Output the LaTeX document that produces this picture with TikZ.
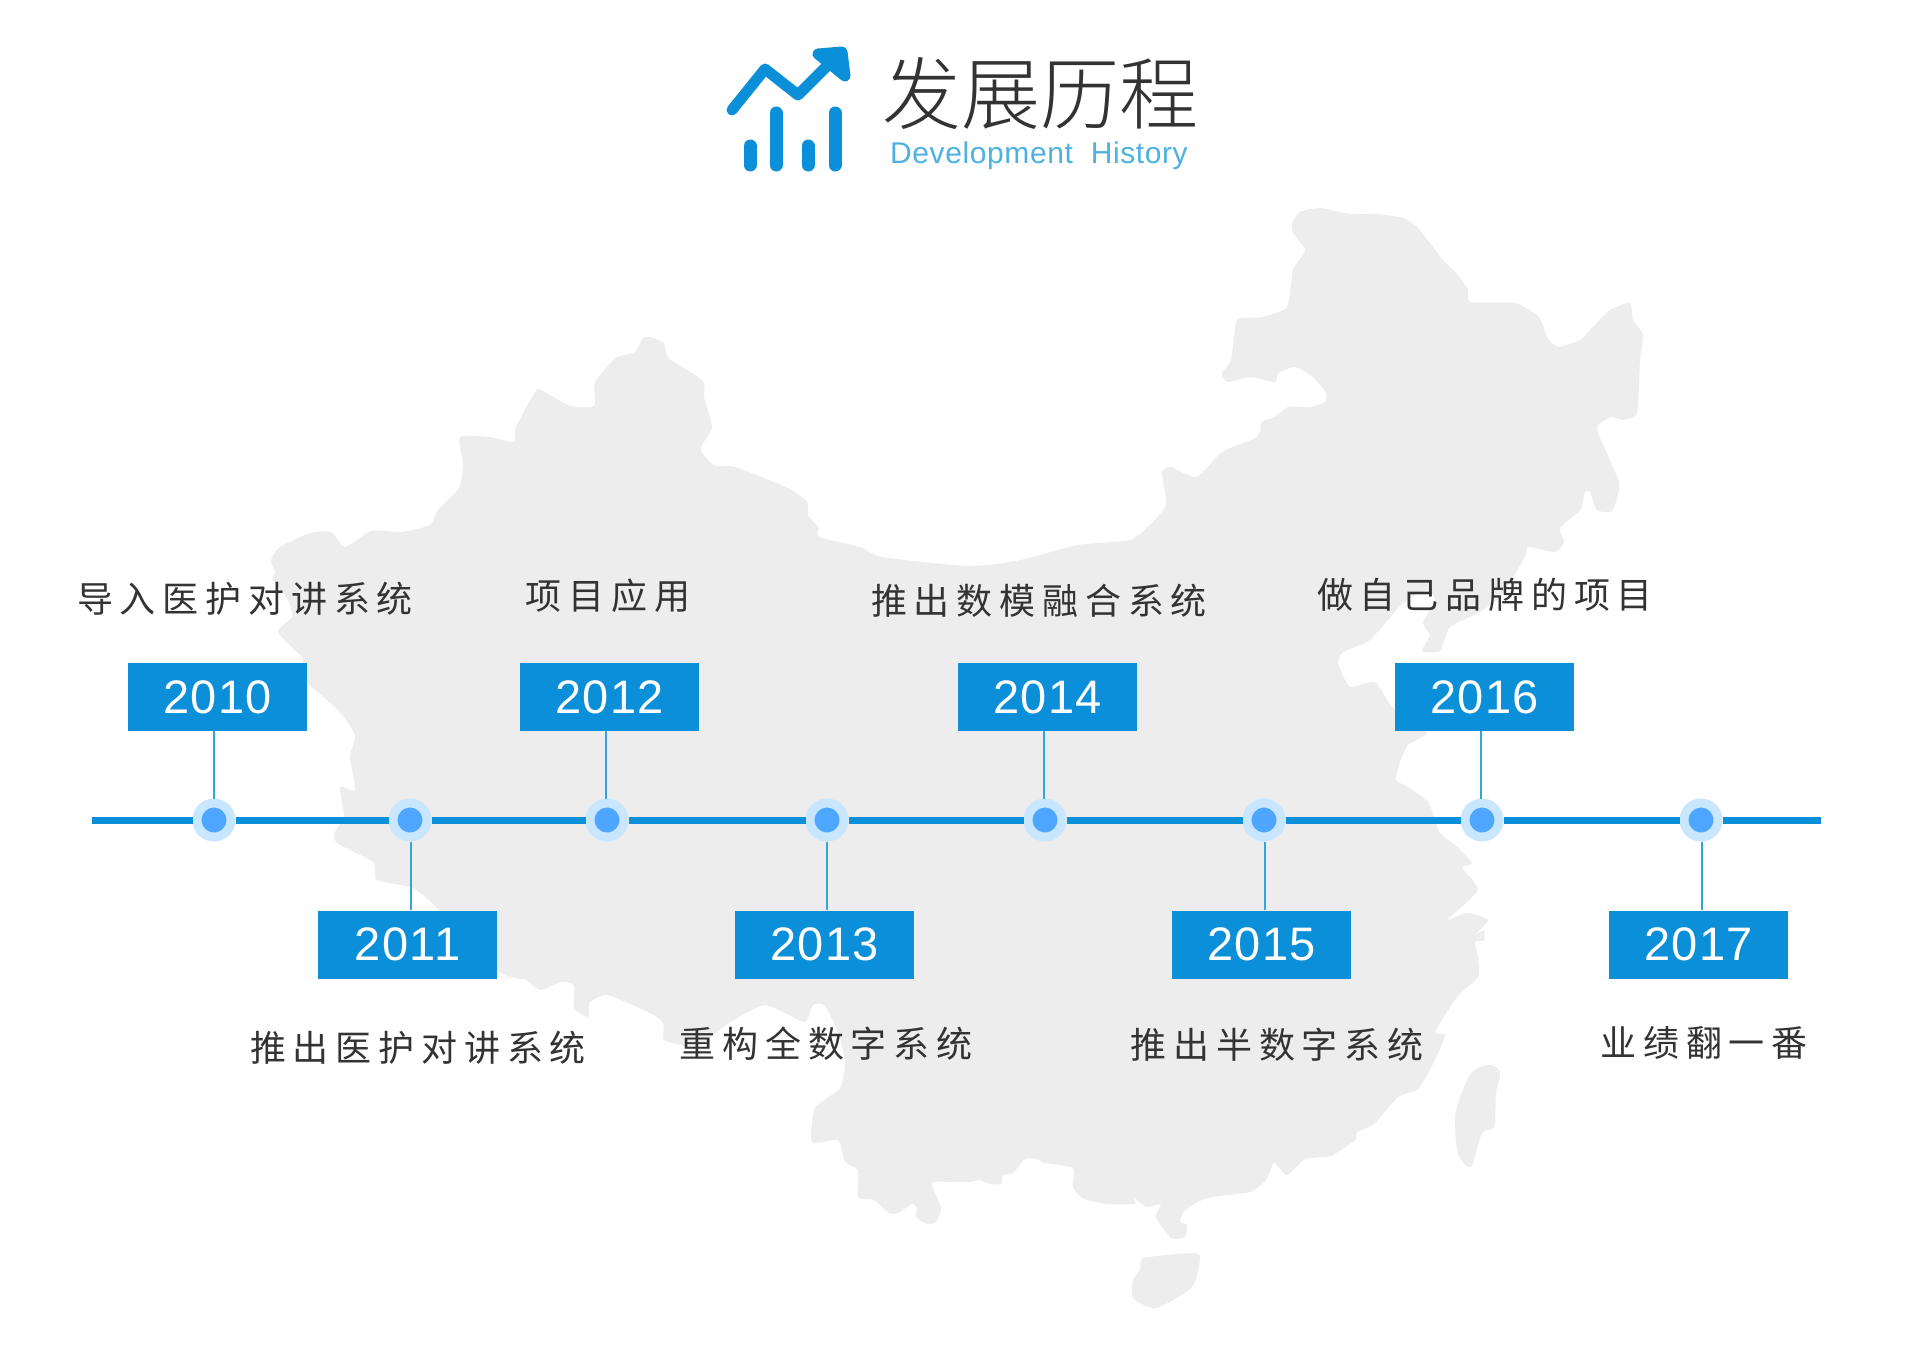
\documentclass[tikz,border=0pt]{standalone}
\usepackage{fontspec}
\setmainfont{Liberation Sans}
\newfontfamily\yearfont[LetterSpace=3]{Liberation Sans}
\newfontfamily\subfont[LetterSpace=2]{Liberation Sans}
\newfontfamily\cjk[LetterSpace=19]{Noto Sans CJK SC}
\newfontfamily\cjktitle{Noto Sans CJK SC Light}
\definecolor{brandblue}{HTML}{0A8FD8}
\definecolor{linkblue}{HTML}{2EA6E2}
\definecolor{ringblue}{HTML}{C9E6FF}
\definecolor{dotblue}{HTML}{4DA6FF}
\definecolor{mapgrey}{HTML}{EDEDED}
\definecolor{inkgrey}{HTML}{333333}
\definecolor{subblue}{HTML}{4DB2E2}
\tikzset{
  yearbox/.style={fill=brandblue,text=white,inner sep=0pt,minimum width=89.5pt,minimum height=34pt,font=\yearfont\fontsize{23.5}{28}\selectfont},
  tdot/.style={circle,fill=dotblue,draw=ringblue,line width=4.5pt,inner sep=0pt,minimum size=17pt},
  tline/.style={draw=brandblue,line width=3.5pt},
  link/.style={draw=linkblue,line width=1.25pt},
  evt/.style={text=inkgrey,inner sep=0pt,font=\cjk\fontsize{18}{21}\selectfont},
  logoline/.style={draw=brandblue,line width=5.5pt,line cap=round,line join=round},
  logobar/.style={draw=brandblue,line width=6.5pt,line cap=round},
  land/.style={fill=mapgrey,draw=none}
}
\begin{document}
\begin{tikzpicture}[x=0.5pt,y=-0.5pt]
\useasboundingbox (0,0) rectangle (1920,1359);
\fill[white] (0,0) rectangle (1920,1359);
% map
\path[land] plot[smooth cycle,tension=0.35] coordinates {
(1320,208)(1300,212)(1292,223)(1293,233)(1305,250)(1293,270)(1287,307)(1263,317)(1242,318)(1236,322)(1231,360)(1222,373)(1227,382)(1250,377)(1275,382)(1278,373)(1295,367)(1313,377)(1326,393)(1325,402)(1310,407)(1288,407)(1275,417)(1262,422)(1257,437)(1222,452)(1197,477)(1170,467)(1162,473)(1166,505)(1150,525)(1130,540)(1078,545)(1016,561)(967,566)(882,557)(860,547)(819,537)(818,527)(808,515)(807,502)(788,488)(735,467)(715,466)(702,453)(702,445)(712,427)(704,397)(704,383)(692,373)(668,358)(664,343)(650,337)(643,338)(635,352)(616,358)(595,382)(594,406)(570,406)(541,390)(535,392)(516,427)(514,442)(490,437)(460,437)(463,463)(459,488)(438,510)(430,525)(402,532)(371,531)(345,547)(331,532)(310,533)(280,547)(271,560)(275,573)(273,580)(288,600)(292,617)(278,632)(302,657)(303,663)(307,682)(338,710)(355,735)(350,757)(355,790)(340,787)(344,817)(335,832)(337,843)(373,862)(377,880)(413,888)(437,908)(500,972)(526,980)(540,990)(561,982)(574,985)(574,1008)(588,1017)(590,1002)(608,995)(654,1015)(664,1025)(664,1040)(697,1047)(726,1025)(765,1005)(804,1022)(813,1005)(824,1005)(836,1027)(845,1060)(840,1088)(815,1108)(812,1142)(838,1140)(845,1162)(858,1170)(858,1197)(874,1200)(889,1213)(898,1213)(912,1204)(917,1208)(916,1217)(927,1224)(936,1222)(941,1208)(932,1183)(951,1182)(970,1182)(979,1180)(991,1184)(1001,1184)(1003,1175)(1013,1173)(1025,1159)(1037,1159)(1044,1163)(1073,1168)(1073,1187)(1082,1198)(1106,1204)(1135,1204)(1133,1197)(1147,1207)(1161,1204)(1156,1217)(1171,1238)(1185,1237)(1187,1225)(1180,1222)(1185,1210)(1207,1198)(1250,1192)(1266,1180)(1274,1163)(1287,1175)(1305,1159)(1331,1156)(1355,1140)(1357,1132)(1374,1124)(1398,1097)(1417,1090)(1427,1075)(1435,1060)(1445,1035)(1435,1032)(1457,997)(1478,977)(1478,958)(1475,942)(1484,940)(1484,930)(1475,935)(1488,920)(1467,913)(1447,920)(1478,890)(1462,868)(1472,863)(1457,847)(1440,833)(1435,820)(1428,802)(1408,787)(1396,780)(1400,762)(1408,745)(1427,732)(1393,708)(1375,682)(1350,687)(1338,663)(1343,652)(1370,640)(1403,603)(1427,590)(1435,600)(1423,623)(1430,635)(1422,651)(1440,651)(1450,627)(1478,613)(1500,597)(1525,557)(1528,547)(1555,552)(1564,542)(1560,528)(1580,510)(1585,492)(1590,492)(1597,510)(1612,511)(1619,483)(1598,433)(1600,423)(1612,417)(1623,420)(1637,413)(1640,360)(1643,335)(1633,320)(1630,303)(1610,310)(1590,330)(1580,340)(1558,347)(1547,337)(1539,317)(1515,303)(1470,302)(1468,290)(1458,275)(1443,260)(1417,227)(1403,218)(1377,214)(1350,214)};
\path[land] plot[smooth cycle,tension=0.5] coordinates {(1489,1065)(1500,1072)(1496,1093)(1494,1127)(1482,1133)(1471,1167)(1458,1153)(1455,1117)(1463,1090)(1472,1072)};
\path[land] plot[smooth cycle,tension=0.4] coordinates {(1144,1258)(1192,1253)(1200,1258)(1192,1287)(1156,1308)(1133,1298)(1133,1280)(1140,1270)};
% logo
\draw[logoline] (732,110) -- (765,69) -- (798,95) -- (836,57);
\fill[brandblue,draw=brandblue,line width=5.5pt,line join=round] (818,54) -- (842,52) -- (845,76) -- cycle;
\draw[logobar] (750,146) -- (750,165);
\draw[logobar] (776,113) -- (776,165);
\draw[logobar] (808,146) -- (808,165);
\draw[logobar] (835,113) -- (835,165);
% title
\node[text=inkgrey,inner sep=0pt,font=\cjktitle\fontsize{39.5}{44}\selectfont] (title) at (1040,94) {发展历程};
\node[text=subblue,inner sep=0pt,font=\subfont\fontsize{15}{18}\selectfont] (subtitle) at (1039,156) {Development\ \ History};
% timeline
\coordinate (tlstart) at (92,820);
\coordinate (tlend) at (1821,820);
\node[tdot] (d10) at (214,820) {};
\node[tdot] (d11) at (410,820) {};
\node[tdot] (d12) at (607,820) {};
\node[tdot] (d13) at (827,820) {};
\node[tdot] (d14) at (1045,820) {};
\node[tdot] (d15) at (1264,820) {};
\node[tdot] (d16) at (1482,820) {};
\node[tdot] (d17) at (1701,820) {};
\draw[tline] (tlstart) -- (d10.west);
\draw[tline] (d10.east) -- (d11.west);
\draw[tline] (d11.east) -- (d12.west);
\draw[tline] (d12.east) -- (d13.west);
\draw[tline] (d13.east) -- (d14.west);
\draw[tline] (d14.east) -- (d15.west);
\draw[tline] (d15.east) -- (d16.west);
\draw[tline] (d16.east) -- (d17.west);
\draw[tline] (d17.east) -- (tlend);
% year boxes
\node[yearbox] (y10) at (217.5,697) {2010};
\node[yearbox] (y11) at (407.5,944.5) {2011};
\node[yearbox] (y12) at (609.5,697) {2012};
\node[yearbox] (y13) at (824.5,944.5) {2013};
\node[yearbox] (y14) at (1047.5,697) {2014};
\node[yearbox] (y15) at (1261.5,944.5) {2015};
\node[yearbox] (y16) at (1484.5,697) {2016};
\node[yearbox] (y17) at (1698.5,944.5) {2017};
% links
\draw[link] (d10.north) -- (d10.north |- y10.south);
\draw[link] ([xshift=0.5pt]d11.south) -- ([xshift=0.5pt]d11.south |- y11.north);
\draw[link] ([xshift=-0.5pt]d12.north) -- ([xshift=-0.5pt]d12.north |- y12.south);
\draw[link] (d13.south) -- (d13.south |- y13.north);
\draw[link] ([xshift=-0.5pt]d14.north) -- ([xshift=-0.5pt]d14.north |- y14.south);
\draw[link] ([xshift=0.5pt]d15.south) -- ([xshift=0.5pt]d15.south |- y15.north);
\draw[link] ([xshift=-0.5pt]d16.north) -- ([xshift=-0.5pt]d16.north |- y16.south);
\draw[link] ([xshift=0.5pt]d17.south) -- ([xshift=0.5pt]d17.south |- y17.north);
% events
\node[evt] (e10) at (245,599) {导入医护对讲系统};
\node[evt] (e11) at (418,1048) {推出医护对讲系统};
\node[evt] (e12) at (608,596) {项目应用};
\node[evt] (e13) at (826,1044) {重构全数字系统};
\node[evt] (e14) at (1039,601) {推出数模融合系统};
\node[evt] (e15) at (1277,1045) {推出半数字系统};
\node[evt] (e16) at (1485,595) {做自己品牌的项目};
\node[evt] (e17) at (1704,1043) {业绩翻一番};
\end{tikzpicture}
\end{document}
